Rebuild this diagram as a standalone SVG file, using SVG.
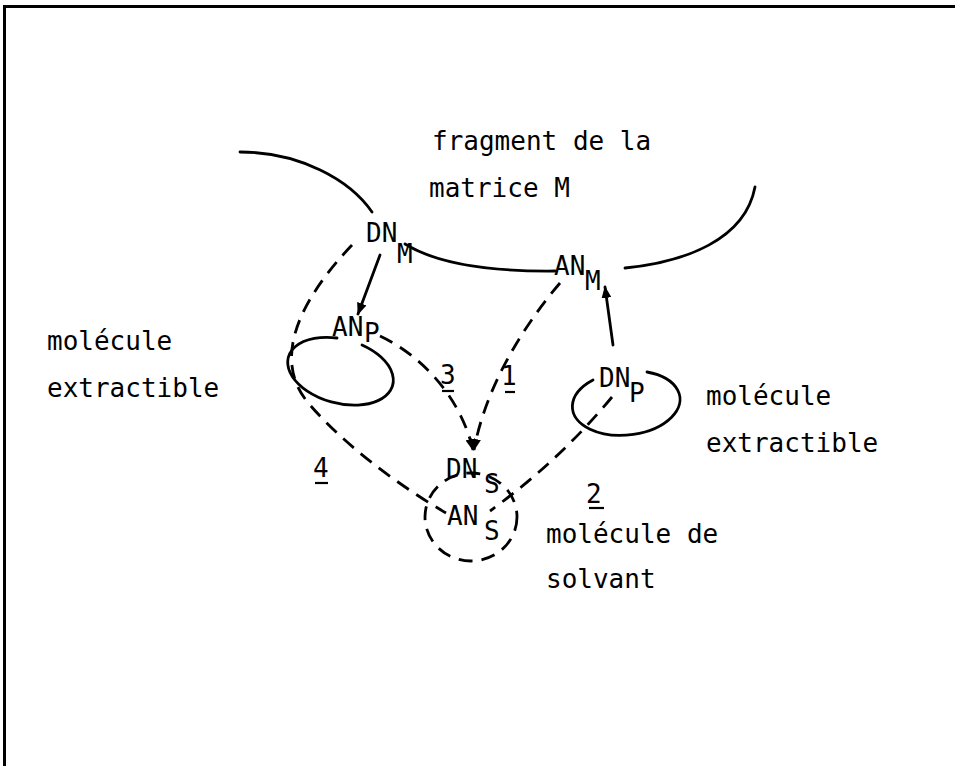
<svg xmlns="http://www.w3.org/2000/svg" width="955" height="766" viewBox="0 0 955 766">
  <style>
    text { font-family: "DejaVu Sans Mono", "Liberation Mono", monospace; font-size: 26px; fill: #000; }
    .solid { fill: none; stroke: #000; stroke-width: 2.8; stroke-linecap: round; }
    .dash { fill: none; stroke: #000; stroke-width: 2.8; stroke-dasharray: 14 9; }
    .ul { stroke: #000; stroke-width: 2.2; }
  </style>
  <defs>
    <marker id="arrow" viewBox="0 0 12 10" refX="11" refY="5" markerWidth="12" markerHeight="10" markerUnits="userSpaceOnUse" orient="auto">
      <path d="M0,0 L12,5 L0,10 Z" fill="#000"/>
    </marker>
  </defs>
  <rect width="955" height="766" fill="#fff"/>

  <!-- frame -->
  <g id="frame">
    <line x1="4.5" y1="6.5" x2="955" y2="6.5" stroke="#000" stroke-width="3"/>
    <line x1="4.5" y1="5" x2="4.5" y2="766" stroke="#000" stroke-width="3"/>
  </g>

  <!-- matrix fragment -->
  <g id="matrice">
    <path class="solid" d="M240,152 C300,152 350,180 372,212"/>
    <path class="solid" d="M405,244 Q450,272 555,271"/>
    <path class="solid" d="M625,268 C685,262 745,240 755,187"/>
    <text x="432" y="150">fragment de la</text>
    <text x="429" y="197">matrice M</text>
  </g>

  <g id="node-DNM">
    <text x="366" y="242">DN<tspan x="397" y="263">M</tspan></text>
  </g>
  <g id="node-ANM">
    <text x="554" y="275">AN<tspan x="585" y="290">M</tspan></text>
  </g>

  <g id="node-ANP">
    <path class="solid" d="M362,345 A54,32 15 1 1 337,338"/>
    <text x="332" y="336">AN<tspan x="364" y="342">P</tspan></text>
  </g>
  <g id="node-DNP">
    <path class="solid" d="M647,372 A54,32 -6 1 1 593,380"/>
    <text x="599" y="387">DN<tspan x="629" y="402">P</tspan></text>
  </g>

  <g id="node-solvant">
    <ellipse class="dash" cx="471" cy="517" rx="46" ry="44"/>
    <text x="446" y="478">DN<tspan x="484" y="493">S</tspan></text>
    <text x="447" y="525">AN<tspan x="484" y="540">S</tspan></text>
  </g>

  <g id="labels">
    <text x="47" y="350">molécule</text>
    <text x="47" y="397">extractible</text>
    <text x="706" y="405">molécule</text>
    <text x="706" y="452">extractible</text>
    <text x="546" y="543">molécule de</text>
    <text x="546" y="588">solvant</text>
  </g>

  <g id="connectors">
    <line class="solid" x1="380" y1="255" x2="358" y2="314" marker-end="url(#arrow)"/>
    <line class="solid" x1="613" y1="345" x2="605" y2="287" marker-end="url(#arrow)"/>
    <path class="dash" d="M560,283 C520,330 485,390 474,450" marker-end="url(#arrow)"/>
    <path class="dash" d="M380,336 C420,355 460,395 473,450" marker-end="url(#arrow)"/>
    <path class="dash" d="M352,245 C300,300 270,360 310,405 C340,440 390,480 446,513"/>
    <path class="dash" d="M612,397 Q560,460 490,511"/>
  </g>

  <g id="numbers">
    <text x="440" y="384">3</text>
    <line class="ul" x1="442" y1="391" x2="454" y2="391"/>
    <text x="501" y="385">1</text>
    <line class="ul" x1="505" y1="392" x2="515" y2="392"/>
    <text x="586" y="503">2</text>
    <line class="ul" x1="589" y1="508" x2="604" y2="508"/>
    <text x="313" y="477">4</text>
    <line class="ul" x1="315" y1="483" x2="328" y2="483"/>
  </g>
</svg>
